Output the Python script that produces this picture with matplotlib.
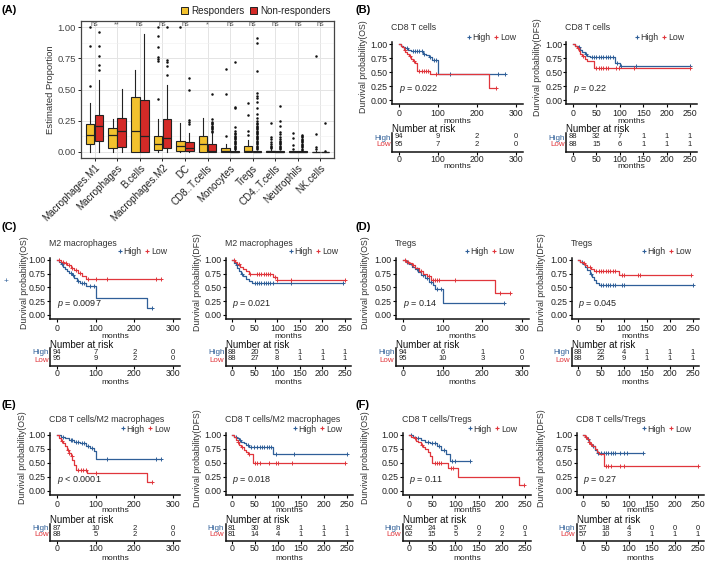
import numpy as np
import matplotlib
matplotlib.use('Agg')
import matplotlib.pyplot as plt
from matplotlib.lines import Line2D
from matplotlib.patches import Patch

plt.rcParams['font.family'] = ['Liberation Sans', 'DejaVu Sans']
plt.rcParams['mathtext.fontset'] = 'custom'
plt.rcParams['mathtext.it'] = 'Liberation Sans:italic'
plt.rcParams['mathtext.rm'] = 'Liberation Sans'

# ---------------- Panel A data ----------------
cell_types = ['Macrophages.M1', 'Macrophages', 'B.cells', 'Macrophages.M2', 'DC',
              'CD8..T.cells', 'Monocytes', 'Tregs', 'CD4..T.cells', 'Neutrophils', 'NK.cells']
sig_labels = ['ns', '**', 'ns', 'ns', 'ns', '*', 'ns', 'ns', 'ns', 'ns', 'ns']

resp_whislo = [0.0, 0.0, 0.0, 0.0, 0.0, 0.0, 0.0, 0.0, 0.0, 0.0, 0.0]
resp_q1 = [0.064, 0.032, 0.0, 0.013, 0.01, 0.0, 0.0, 0.0, 0.0, 0.0, 0.0]
resp_med = [0.133, 0.133, 0.163, 0.059, 0.043, 0.059, 0.01, 0.005, 0.003, 0.0, 0.0]
resp_q3 = [0.224, 0.19, 0.437, 0.123, 0.085, 0.123, 0.027, 0.048, 0.01, 0.003, 0.002]
resp_whishi = [0.39, 0.26, 0.66, 0.264, 0.235, 0.27, 0.06, 0.093, 0.022, 0.006, 0.004]
resp_fliers = [
    [0.525, 0.85, 1.0],
    [],
    [],
    [0.424, 0.73, 0.747, 0.757, 0.845, 0.933, 1.0],
    [1.0],
    [],
    [0.125, 0.464, 0.667],
    [0.133, 0.17, 0.293, 0.39],
    [0.03, 0.04, 0.05, 0.06, 0.08, 0.1, 0.12, 0.229],
    [0.02, 0.053, 0.107, 0.152],
    [0.02, 0.04, 0.144, 0.77],
]

nonr_whislo = [0.0, 0.0, 0.0, 0.0, 0.0, 0.0, 0.0, 0.0, 0.0, 0.0, 0.0]
nonr_q1 = [0.083, 0.04, 0.0, 0.032, 0.005, 0.0, 0.0, 0.0, 0.0, 0.0, 0.0]
nonr_med = [0.208, 0.165, 0.13, 0.112, 0.032, 0.005, 0.001, 0.001, 0.001, 0.0, 0.0]
nonr_q3 = [0.296, 0.272, 0.416, 0.267, 0.077, 0.064, 0.005, 0.004, 0.004, 0.003, 0.002]
nonr_whishi = [0.576, 0.507, 0.947, 0.539, 0.152, 0.15, 0.012, 0.01, 0.01, 0.008, 0.005]
nonr_fliers = [
    [0.653, 0.693, 0.77, 0.853, 0.96],
    [],
    [],
    [0.613, 0.69, 0.717, 0.736, 1.0],
    [0.22, 0.237, 0.253, 0.5, 0.59],
    [0.16, 0.17, 0.18, 0.19, 0.2, 0.21, 0.22, 0.23, 0.24, 0.26, 0.464],
    [0.02, 0.03, 0.04, 0.05, 0.06, 0.07, 0.08, 0.09, 0.1, 0.11, 0.12, 0.13,
     0.14, 0.15, 0.17, 0.2, 0.352, 0.36, 0.717],
    [0.02, 0.03, 0.04, 0.05, 0.06, 0.07, 0.08, 0.09, 0.1, 0.11, 0.12, 0.13, 0.14,
     0.15, 0.16, 0.17, 0.18, 0.19, 0.2, 0.21, 0.22, 0.23, 0.25, 0.27, 0.3, 0.35,
     0.4, 0.43, 0.45, 0.47, 0.65, 0.877, 0.917],
    [0.02, 0.03, 0.04, 0.05, 0.06, 0.07, 0.08, 0.09, 0.1, 0.12, 0.14, 0.16, 0.205, 0.25, 0.37],
    [0.015, 0.025, 0.035, 0.045, 0.055, 0.065, 0.075, 0.085, 0.095, 0.105, 0.115, 0.125, 0.133],
    [0.01, 0.232],
]

# ---------------- KM data (time in months, survival) ----------------
B_OS_high_t = [0, 5, 10, 15, 22, 30, 62, 70, 78, 85, 100]
B_OS_high_s = [1.0, 0.97, 0.95, 0.92, 0.89, 0.87, 0.83, 0.80, 0.76, 0.72, 0.47]
B_OS_high_c = [20, 35, 40, 45, 52, 58, 65, 80, 90, 95, 130, 255, 272]
B_OS_low_t = [0, 4, 8, 12, 16, 20, 25, 30, 35, 40, 47, 80, 232]
B_OS_low_s = [1.0, 0.97, 0.94, 0.90, 0.86, 0.82, 0.78, 0.74, 0.70, 0.66, 0.52, 0.46, 0.21]
B_OS_low_c = [15, 28, 38, 52, 58, 64, 70, 75, 95, 248]

B_DFS_high_t = [0, 5, 10, 15, 20, 25, 30, 36, 90, 100]
B_DFS_high_s = [1.0, 0.97, 0.94, 0.90, 0.86, 0.82, 0.79, 0.76, 0.66, 0.61]
B_DFS_high_c = [12, 28, 40, 45, 50, 55, 60, 65, 70, 75, 80, 85, 95, 102, 135, 250]
B_DFS_low_t = [0, 4, 8, 12, 16, 20, 25, 30, 45]
B_DFS_low_s = [1.0, 0.96, 0.92, 0.88, 0.83, 0.78, 0.74, 0.70, 0.57]
B_DFS_low_c = [10, 22, 50, 55, 60, 65, 70, 75, 92, 98, 130, 250]

C_OS_high_t = [0, 5, 10, 15, 20, 25, 30, 38, 45, 52, 60, 75, 100, 232]
C_OS_high_s = [1.0, 0.96, 0.92, 0.88, 0.84, 0.80, 0.76, 0.72, 0.67, 0.62, 0.58, 0.52, 0.30, 0.13]
C_OS_high_c = [12, 35, 42, 55, 65, 70, 85, 95, 245]
C_OS_low_t = [0, 10, 18, 25, 35, 45, 55, 65, 75]
C_OS_low_s = [1.0, 0.97, 0.94, 0.90, 0.86, 0.82, 0.77, 0.71, 0.65]
C_OS_low_c = [5, 15, 22, 30, 40, 50, 60, 80, 100, 130, 255, 270]

C_DFS_high_t = [0, 4, 8, 12, 16, 20, 25, 30, 37, 45]
C_DFS_high_s = [1.0, 0.95, 0.90, 0.85, 0.80, 0.75, 0.70, 0.65, 0.61, 0.58]
C_DFS_high_c = [10, 22, 50, 55, 60, 65, 70, 75, 80, 85, 90, 130, 245]
C_DFS_low_t = [0, 6, 12, 18, 25, 30, 37, 90, 100]
C_DFS_low_s = [1.0, 0.96, 0.92, 0.88, 0.84, 0.80, 0.75, 0.69, 0.64]
C_DFS_low_c = [5, 15, 40, 55, 60, 65, 70, 75, 80, 85, 95, 100, 130, 250]

D_OS_high_t = [0, 8, 15, 22, 30, 38, 45, 55, 65, 75, 80, 100]
D_OS_high_s = [1.0, 0.96, 0.92, 0.88, 0.84, 0.79, 0.73, 0.67, 0.60, 0.55, 0.48, 0.21]
D_OS_high_c = [10, 35, 50, 60, 70, 85, 95, 255]
D_OS_low_t = [0, 8, 15, 22, 30, 40, 50, 60, 70, 232]
D_OS_low_s = [1.0, 0.97, 0.94, 0.90, 0.85, 0.80, 0.75, 0.70, 0.63, 0.40]
D_OS_low_c = [5, 12, 25, 45, 65, 75, 80, 85, 90, 130, 245, 270]

D_DFS_high_t = [0, 5, 10, 15, 20, 25, 30, 35, 40, 46]
D_DFS_high_s = [1.0, 0.96, 0.92, 0.87, 0.81, 0.75, 0.69, 0.64, 0.59, 0.54]
D_DFS_high_c = [8, 28, 50, 55, 60, 65, 70, 75, 80, 95, 100, 250]
D_DFS_low_t = [0, 5, 10, 15, 20, 28, 35, 90]
D_DFS_low_s = [1.0, 0.97, 0.94, 0.91, 0.88, 0.84, 0.80, 0.72]
D_DFS_low_c = [12, 25, 40, 45, 50, 55, 60, 65, 70, 75, 80, 95, 100, 130, 135, 245]

E_OS_high_t = [0, 10, 20, 30, 45, 60, 75, 85, 95, 100]
E_OS_high_s = [1.0, 0.97, 0.94, 0.91, 0.88, 0.85, 0.80, 0.76, 0.72, 0.57]
E_OS_high_c = [15, 35, 40, 50, 55, 65, 70, 80, 90, 130, 255, 270]
E_OS_low_t = [0, 5, 10, 15, 20, 25, 30, 35, 40, 45, 50, 78, 232]
E_OS_low_s = [1.0, 0.95, 0.90, 0.85, 0.80, 0.74, 0.68, 0.62, 0.55, 0.47, 0.37, 0.33, 0.16]
E_OS_low_c = [12, 28, 32, 38, 55, 62, 68, 75, 100, 245]

E_DFS_high_t = [0, 5, 10, 15, 20, 25, 30, 38, 90]
E_DFS_high_s = [1.0, 0.97, 0.94, 0.91, 0.88, 0.85, 0.82, 0.78, 0.66]
E_DFS_high_c = [8, 18, 35, 42, 48, 55, 60, 65, 70, 75, 80, 85, 95, 135, 250]
E_DFS_low_t = [0, 4, 8, 12, 16, 20, 25, 30, 35, 46]
E_DFS_low_s = [1.0, 0.96, 0.91, 0.87, 0.83, 0.78, 0.74, 0.70, 0.66, 0.50]
E_DFS_low_c = [14, 22, 38, 50, 55, 60, 80, 95, 100, 130, 245]

F_OS_high_t = [0, 8, 15, 25, 35, 45, 60, 70, 80, 88]
F_OS_high_s = [1.0, 0.97, 0.94, 0.91, 0.88, 0.85, 0.81, 0.74, 0.66, 0.54]
F_OS_high_c = [5, 20, 40, 50, 55, 65, 75, 92, 100, 132]
F_OS_low_t = [0, 5, 10, 15, 20, 25, 30, 35, 40, 45, 50, 85, 106, 236]
F_OS_low_s = [1.0, 0.97, 0.94, 0.90, 0.87, 0.83, 0.79, 0.75, 0.70, 0.62, 0.50, 0.41, 0.25, 0.10]
F_OS_low_c = [12, 28, 55, 60, 65, 70, 90, 95, 248]

F_DFS_high_t = [0, 4, 8, 12, 16, 20, 25, 30]
F_DFS_high_s = [1.0, 0.96, 0.92, 0.88, 0.84, 0.80, 0.74, 0.68]
F_DFS_high_c = [10, 22, 33, 40, 45, 50, 55, 60, 65, 70, 80, 90, 95, 130]
F_DFS_low_t = [0, 4, 8, 12, 16, 20, 25, 30, 35, 45]
F_DFS_low_s = [1.0, 0.96, 0.92, 0.88, 0.84, 0.80, 0.75, 0.70, 0.66, 0.45]
F_DFS_low_c = [6, 14, 18, 50, 55, 60, 80, 90, 250]

# risk tables
risk_times_300 = [0, 100, 200, 300]
risk_times_250 = [0, 50, 100, 150, 200, 250]
B_OS_risk_high = [94, 9, 2, 0]
B_OS_risk_low = [95, 7, 2, 0]
B_DFS_risk_high = [88, 32, 7, 1, 1, 1]
B_DFS_risk_low = [88, 15, 6, 1, 1, 1]
C_OS_risk_high = [94, 7, 2, 0]
C_OS_risk_low = [95, 9, 2, 0]
C_DFS_risk_high = [88, 20, 5, 1, 1, 1]
C_DFS_risk_low = [88, 27, 8, 1, 1, 1]
D_OS_risk_high = [94, 6, 1, 0]
D_OS_risk_low = [95, 10, 3, 0]
D_DFS_risk_high = [88, 22, 4, 1, 1, 1]
D_DFS_risk_low = [88, 25, 9, 1, 1, 1]
E_OS_risk_high = [87, 10, 2, 0]
E_OS_risk_low = [88, 5, 2, 0]
E_DFS_risk_high = [81, 30, 8, 1, 1, 1]
E_DFS_risk_low = [81, 14, 4, 1, 1, 1]
F_OS_risk_high = [62, 24, 5, 0, 0, 0]
F_OS_risk_low = [62, 15, 5, 2, 2, 1]
F_DFS_risk_high = [57, 18, 4, 0, 0, 0]
F_DFS_risk_low = [57, 10, 3, 1, 1, 1]

titles = {'B': 'CD8 T cells', 'C': 'M2 macrophages', 'D': 'Tregs',
          'E': 'CD8 T cells/M2 macrophages', 'F': 'CD8 T cells/Tregs'}
pvals = {'B': ('= 0.022', '= 0.22'), 'C': ('= 0.0097', '= 0.021'), 'D': ('= 0.14', '= 0.045'),
         'E': ('< 0.0001', '= 0.018'), 'F': ('= 0.11', '= 0.27')}

# ---------------- figure ----------------
W, H = 709, 565
fig = plt.figure(figsize=(W / 100, H / 100), dpi=100)
BLUE = '#2f5f98'
RED = '#e0363c'
YEL = '#f2c12e'
DRED = '#d42a27'


def add_ax(left, top, right, bottom):
    return fig.add_axes([left / W, 1 - bottom / H, (right - left) / W, (bottom - top) / H])


def fx(px):
    return px / W


def fy(py):
    return 1 - py / H

# ---------------- Panel A ----------------
axA = add_ax(81, 21, 334, 158)
pos = np.arange(1, len(cell_types) + 1)


def stats_list(wl, q1, med, q3, wh, fl):
    return [dict(whislo=wl[i], q1=q1[i], med=med[i], q3=q3[i], whishi=wh[i], fliers=fl[i])
            for i in range(len(cell_types))]


common = dict(widths=0.38, patch_artist=True, showcaps=False,
              whiskerprops=dict(color='#222222', lw=0.8),
              medianprops=dict(color='#222222', lw=0.9),
              flierprops=dict(marker='o', markersize=1.8, markerfacecolor='#111111',
                              markeredgecolor='none'))
b1 = axA.bxp(stats_list(resp_whislo, resp_q1, resp_med, resp_q3, resp_whishi, resp_fliers),
             positions=pos - 0.2, boxprops=dict(facecolor=YEL, edgecolor='#222222', lw=0.8), **common)
b2 = axA.bxp(stats_list(nonr_whislo, nonr_q1, nonr_med, nonr_q3, nonr_whishi, nonr_fliers),
             positions=pos + 0.2, boxprops=dict(facecolor=DRED, edgecolor='#222222', lw=0.8), **common)
axA.set_xlim(0.4, 11.6)
axA.set_ylim(-0.05, 1.05)
axA.set_yticks([0, 0.25, 0.5, 0.75, 1.0])
axA.set_yticklabels(['0.00', '0.25', '0.50', '0.75', '1.00'])
axA.set_yticks([0.125, 0.375, 0.625, 0.875], minor=True)
axA.set_xticks(pos)
axA.set_xticklabels(cell_types, rotation=45, ha='right', rotation_mode='anchor', fontsize=7.1,
                    color='#222222')
axA.tick_params(axis='y', labelsize=6.8, labelcolor='#444444', length=2, width=0.6, pad=1.5)
axA.tick_params(axis='x', length=2, width=0.6, pad=1.5)
axA.tick_params(axis='y', which='minor', length=0)
axA.set_axisbelow(True)
axA.grid(True, which='major', color='#e4e4e4', lw=0.7)
axA.grid(True, which='minor', axis='y', color='#f0f0f0', lw=0.4)
for sp in axA.spines.values():
    sp.set_color('#444444')
    sp.set_linewidth(0.9)
axA.set_ylabel('Estimated Proportion', fontsize=6.8, color='#333333', labelpad=2)
for i, lab in enumerate(sig_labels):
    axA.text(pos[i], 1.018, lab, ha='center', va='center', fontsize=5.2, color='#555555')
fig.legend(handles=[Patch(facecolor=YEL, edgecolor='#222222', lw=0.7),
                    Patch(facecolor=DRED, edgecolor='#222222', lw=0.7)],
           labels=['Responders', 'Non-responders'], loc='center',
           bbox_to_anchor=(fx(256), fy(11)), ncol=2, frameon=False, fontsize=7.1,
           handlelength=0.7, handleheight=0.7, columnspacing=0.6, handletextpad=0.3,
           borderpad=0, labelcolor='#222222')

# panel labels
for lab, x, y in [('(A)', 2, 10), ('(B)', 356, 10), ('(C)', 2, 227), ('(D)', 356, 227),
                  ('(E)', 2, 405), ('(F)', 356, 405)]:
    fig.text(fx(x), fy(y), lab, fontsize=8, fontweight='bold', ha='left', va='center')

# stray marker left of panel C
fig.text(fx(6), fy(281), '+', color=BLUE, fontsize=6, ha='center', va='center')

# ---------------- KM panels ----------------
rows = [
    dict(y_one=44, y_zero=100, title_y=28, legend_y=38, nar_y=129, high_y=137, low_y=144,
         line_y=152, months_y=167, km_months_y=121),
    dict(y_one=260, y_zero=315, title_y=243, legend_y=252, nar_y=345, high_y=352, low_y=359,
         line_y=366, months_y=382, km_months_y=337),
    dict(y_one=435, y_zero=491, title_y=420, legend_y=429, nar_y=520, high_y=528, low_y=534,
         line_y=541, months_y=558, km_months_y=511),
]

YLIM = (-0.08, 1.04)
MFS = 6.0


def surv_at(t, s, c):
    idx = np.searchsorted(np.asarray(t, float), c, side='right') - 1
    return np.asarray(s)[idx]


def km_panel(x0, xm, tick_max, row, title, ylab, ylab_x, leg_right,
             hi_t, hi_s, hi_c, lo_t, lo_s, lo_c, ptxt, rk_hi, rk_lo):
    r = rows[row]
    ppx = (xm - x0) / tick_max
    if tick_max == 300:
        xlim = (-18, 318)
        ticks = risk_times_300
    else:
        xlim = (-14, 264)
        ticks = risk_times_250
    ppy = r['y_zero'] - r['y_one']
    left = x0 + xlim[0] * ppx
    right = x0 + xlim[1] * ppx
    top = r['y_zero'] - YLIM[1] * ppy
    bottom = r['y_zero'] - YLIM[0] * ppy
    ax = add_ax(left, top, right, bottom)
    for t, s, c, col in [(hi_t, hi_s, hi_c, BLUE), (lo_t, lo_s, lo_c, RED)]:
        tend = max(max(c), t[-1])
        ax.step(list(t) + [tend], list(s) + [s[-1]], where='post', color=col, lw=0.9)
        ax.plot(c, surv_at(t, s, c), ls='none', marker='+', ms=3.5, mew=0.7, color=col)
    ax.set_xlim(*xlim)
    ax.set_ylim(*YLIM)
    ax.set_xticks(ticks)
    ax.set_yticks([0, 0.25, 0.5, 0.75, 1.0])
    ax.set_yticklabels(['0.00', '0.25', '0.50', '0.75', '1.00'])
    ax.tick_params(labelsize=6.3, length=2, width=0.8, pad=1, labelcolor='#222222')
    for sp in ['top', 'right']:
        ax.spines[sp].set_visible(False)
    for sp in ['left', 'bottom']:
        ax.spines[sp].set_linewidth(1.1)
        ax.spines[sp].set_color('#111111')
    ax.patch.set_alpha(0)
    ax.text(0, 0.2, '$p$ ' + ptxt, fontsize=6.5, ha='left', va='center', color='#222222')
    fig.text(fx(left - 1), fy(r['title_y']), title, fontsize=6.3, ha='left', va='center',
             color='#333333')
    fig.text(fx((left + right) / 2), fy(r['km_months_y']), 'months', fontsize=MFS,
             ha='center', va='center', color='#222222')
    fig.text(fx(ylab_x), fy((top + bottom) / 2 - 6), ylab, rotation=90, fontsize=6.3,
             ha='center', va='center', color='#333333')
    ax.legend(handles=[Line2D([], [], ls='none', marker='+', ms=3.5, mew=0.8, color=BLUE),
                       Line2D([], [], ls='none', marker='+', ms=3.5, mew=0.8, color=RED)],
              labels=['High', 'Low'], loc='center right',
              bbox_to_anchor=(fx(leg_right), fy(r['legend_y'])),
              bbox_transform=fig.transFigure, ncol=2, frameon=False, fontsize=6.3,
              handlelength=0.6, handletextpad=0.1, columnspacing=0.4, borderpad=0,
              borderaxespad=0, labelcolor='#333333')
    # risk table
    rtop = r['high_y'] - 4
    rax = add_ax(left, rtop, right, r['line_y'])
    rax.set_xlim(*xlim)
    rax.set_ylim(0, 1)
    hh = r['line_y'] - rtop
    yh = (r['line_y'] - r['high_y']) / hh
    yl = (r['line_y'] - r['low_y']) / hh
    for tt, nh, nl in zip(ticks, rk_hi, rk_lo):
        rax.text(tt, yh, str(nh), ha='center', va='center', fontsize=5.5, color='#222222')
        rax.text(tt, yl, str(nl), ha='center', va='center', fontsize=5.5, color='#222222')
    rax.set_yticks([yh, yl])
    rax.set_yticklabels(['High', 'Low'])
    for lbl, col in zip(rax.get_yticklabels(), [BLUE, RED]):
        lbl.set_color(col)
    rax.tick_params(axis='y', length=0, labelsize=5.8, pad=1)
    rax.set_xticks(ticks)
    rax.tick_params(axis='x', labelsize=6.3, length=2, width=0.8, pad=0.5, labelcolor='#222222')
    for sp in ['top', 'right']:
        rax.spines[sp].set_visible(False)
    for sp in ['left', 'bottom']:
        rax.spines[sp].set_linewidth(1.1)
        rax.spines[sp].set_color('#111111')
    rax.patch.set_alpha(0)
    fig.text(fx(left), fy(r['nar_y']), 'Number at risk', fontsize=7.0, ha='left', va='center',
             color='#111111')
    fig.text(fx((left + right) / 2), fy(r['months_y']), 'months', fontsize=MFS,
             ha='center', va='center', color='#222222')


OSL = 'Durvival probability(OS)'
DFSL = 'Durvival probability(DFS)'

km_panel(399, 516, 300, 0, titles['B'], OSL, 363, 516,
         B_OS_high_t, B_OS_high_s, B_OS_high_c, B_OS_low_t, B_OS_low_s, B_OS_low_c,
         pvals['B'][0], B_OS_risk_high, B_OS_risk_low)
km_panel(573, 690, 250, 0, titles['B'], DFSL, 538, 684,
         B_DFS_high_t, B_DFS_high_s, B_DFS_high_c, B_DFS_low_t, B_DFS_low_s, B_DFS_low_c,
         pvals['B'][1], B_DFS_risk_high, B_DFS_risk_low)
km_panel(57, 173, 300, 1, titles['C'], OSL, 25, 167,
         C_OS_high_t, C_OS_high_s, C_OS_high_c, C_OS_low_t, C_OS_low_s, C_OS_low_c,
         pvals['C'][0], C_OS_risk_high, C_OS_risk_low)
km_panel(232, 345, 250, 1, titles['C'], DFSL, 197, 338,
         C_DFS_high_t, C_DFS_high_s, C_DFS_high_c, C_DFS_low_t, C_DFS_low_s, C_DFS_low_c,
         pvals['C'][1], C_DFS_risk_high, C_DFS_risk_low)
km_panel(403, 522, 300, 1, titles['D'], OSL, 365, 514,
         D_OS_high_t, D_OS_high_s, D_OS_high_c, D_OS_low_t, D_OS_low_s, D_OS_low_c,
         pvals['D'][0], D_OS_risk_high, D_OS_risk_low)
km_panel(578, 693, 250, 1, titles['D'], DFSL, 542, 691,
         D_DFS_high_t, D_DFS_high_s, D_DFS_high_c, D_DFS_low_t, D_DFS_low_s, D_DFS_low_c,
         pvals['D'][1], D_DFS_risk_high, D_DFS_risk_low)
km_panel(57, 173, 300, 2, titles['E'], OSL, 23, 170,
         E_OS_high_t, E_OS_high_s, E_OS_high_c, E_OS_low_t, E_OS_low_s, E_OS_low_c,
         pvals['E'][0], E_OS_risk_high, E_OS_risk_low)
km_panel(232, 347, 250, 2, titles['E'], DFSL, 197, 342,
         E_DFS_high_t, E_DFS_high_s, E_DFS_high_c, E_DFS_low_t, E_DFS_low_s, E_DFS_low_c,
         pvals['E'][1], E_DFS_risk_high, E_DFS_risk_low)
km_panel(409, 525, 250, 2, titles['F'], OSL, 365, 517,
         F_OS_high_t, F_OS_high_s, F_OS_high_c, F_OS_low_t, F_OS_low_s, F_OS_low_c,
         pvals['F'][0], F_OS_risk_high, F_OS_risk_low)
km_panel(583, 698, 250, 2, titles['F'], DFSL, 542, 691,
         F_DFS_high_t, F_DFS_high_s, F_DFS_high_c, F_DFS_low_t, F_DFS_low_s, F_DFS_low_c,
         pvals['F'][1], F_DFS_risk_high, F_DFS_risk_low)

fig.savefig('out.png', dpi=100)
